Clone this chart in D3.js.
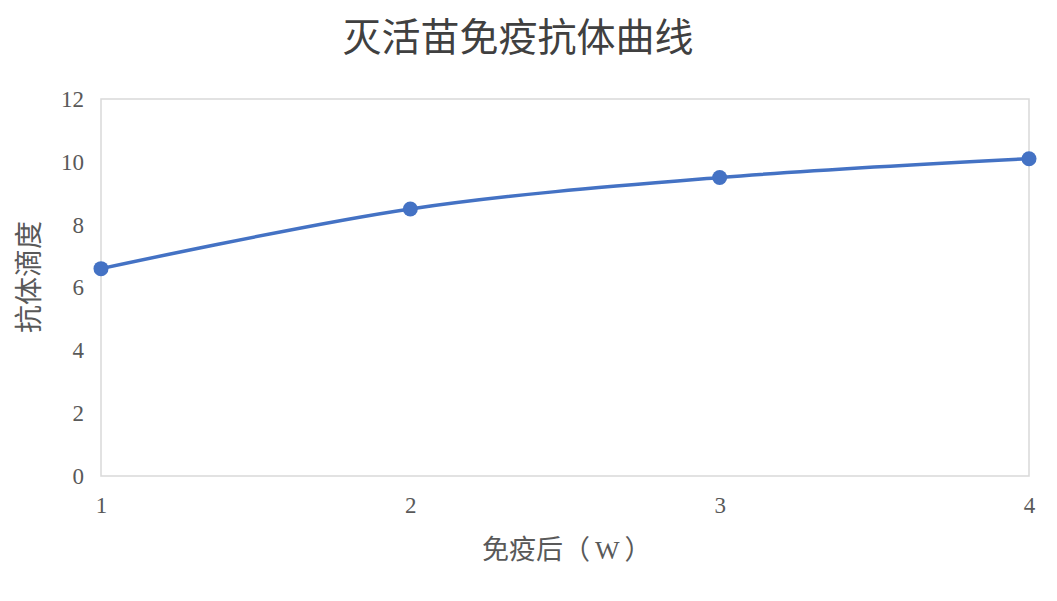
<!DOCTYPE html>
<html><head><meta charset="utf-8">
<script src="https://cdn.jsdelivr.net/npm/d3@7"></script>
<style>body{margin:0;background:#fff}svg{display:block}</style>
</head><body><svg id="c" width="1057" height="601"></svg>
<script>
const weeks = [1, 2, 3, 4];
const titers = [6.6, 8.5, 9.5, 10.1];
const yTicks = [0, 2, 4, 6, 8, 10, 12];
const title = "灭活苗免疫抗体曲线";
const xTitleParts = ["免疫后（", "W", "）"];
const yTitle = "抗体滴度";

const svg = d3.select("#c");
const m = {l: 101, r: 1029, t: 99, b: 476};
const x = d3.scaleLinear().domain([1, 4]).range([m.l, m.r]);
const y = d3.scaleLinear().domain([0, 12]).range([m.b, m.t]);
const serif = "'Liberation Serif', 'DejaVu Serif', serif";
const cjk = "'Noto Sans CJK SC', sans-serif";
const txt = "#595959";

svg.append("rect").attr("x", m.l).attr("y", m.t).attr("width", m.r - m.l).attr("height", m.b - m.t)
  .attr("fill", "none").attr("stroke", "#d9d9d9").attr("stroke-width", 1.5);

const ya = svg.append("g").attr("transform", `translate(${m.l},0)`)
  .call(d3.axisLeft(y).tickValues(yTicks).tickSize(0).tickPadding(17));
ya.select(".domain").remove();
ya.selectAll("text").attr("font-family", serif).attr("font-size", 23).attr("fill", txt);

const xa = svg.append("g").attr("transform", `translate(0,${m.b})`)
  .call(d3.axisBottom(x).tickValues(weeks).tickFormat(d3.format("d")).tickSize(0).tickPadding(21));
xa.select(".domain").remove();
xa.selectAll("text").attr("font-family", serif).attr("font-size", 23).attr("fill", txt);

const line = d3.line().x((d, i) => x(weeks[i])).y(d => y(d)).curve(d3.curveCatmullRom.alpha(0.5));
svg.append("path").datum(titers).attr("d", line).attr("fill", "none")
  .attr("stroke", "#4472C4").attr("stroke-width", 3.5).attr("stroke-linecap", "round");

svg.selectAll("circle.pt").data(titers).join("circle").attr("class", "pt")
  .attr("cx", (d, i) => x(weeks[i])).attr("cy", d => y(d)).attr("r", 7.5).attr("fill", "#4472C4");

svg.append("text").attr("x", 518).attr("y", 51).attr("text-anchor", "middle")
  .attr("font-family", cjk).attr("font-size", 39).attr("fill", "#404040").text(title);

const xt = svg.append("text").attr("x", 482).attr("y", 559)
  .attr("font-family", cjk).attr("font-size", 27).attr("fill", txt);
xt.append("tspan").text(xTitleParts[0]);
xt.append("tspan").attr("dx", 5).attr("font-family", serif).attr("font-size", 26).text(xTitleParts[1]);
xt.append("tspan").attr("dx", 5).text(xTitleParts[2]);

svg.append("text").attr("transform", "translate(39,277) rotate(-90)").attr("text-anchor", "middle")
  .attr("font-family", cjk).attr("font-size", 28).attr("fill", txt).text(yTitle);
</script></body></html>
